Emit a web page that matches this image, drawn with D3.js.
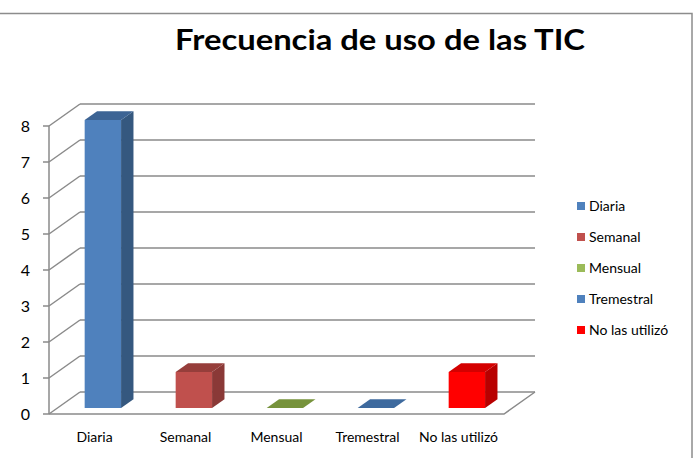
<!DOCTYPE html>
<html>
<head>
<meta charset="utf-8">
<script src="https://cdn.jsdelivr.net/npm/d3@7"></script>
<style>
  body { margin: 0; background: #fff; }
  svg { display: block; font-family: Lato, "Open Sans", sans-serif; }
</style>
</head>
<body>
<svg id="chart" width="695" height="458"></svg>
<script>
// Data
const categories = ["Diaria", "Semanal", "Mensual", "Tremestral", "No las utilizó"];
const values = [8, 1, 0, 0, 1];
const yTicks = [0, 1, 2, 3, 4, 5, 6, 7, 8];
const chartTitle = "Frecuencia de uso de las TIC";

// Face colours per bar: front, side, top
const faceColors = [
    ["#4f81bd", "#35587f", "#3d6494"],
    ["#c0504d", "#8a3937", "#963e3b"],
    ["#9bbb59", "#6e8a36", "#77933c"],
    ["#4f81bd", "#35587f", "#3e6a9e"],
    ["#ff0000", "#b80000", "#d40000"]
];

const svg = d3.select("#chart");

// Frame of the chart area
svg.append("rect")
    .attr("x", -2).attr("y", 13.5)
    .attr("width", 694).attr("height", 470)
    .attr("fill", "none")
    .attr("stroke", "#8c8c8c")
    .attr("stroke-width", 1.5);

// Title
svg.append("text")
    .attr("x", 175).attr("y", 50)
    .attr("font-size", 29)
    .attr("font-weight", "bold")
    .attr("textLength", 410)
    .attr("lengthAdjust", "spacingAndGlyphs")
    .attr("fill", "#000")
    .text(chartTitle);

// 3D geometry: front plane scales plus a depth offset
const depthX = 31, depthY = -22;
const x = d3.scaleBand().domain(categories).range([49, 504]);
const y = d3.scaleLinear().domain([0, 8]).range([414, 126]);
const pt = (px, v, d) => [px + d * depthX, y(v) + d * depthY];
const line = d3.line();

const grid = svg.append("g")
    .attr("fill", "none")
    .attr("stroke", "#8a8a8a")
    .attr("stroke-width", 1.5);

// Back wall gridlines and left wall diagonals
yTicks.forEach(function (t) {
    grid.append("path").attr("d", line([pt(49, t, 1), pt(504, t, 1)]));
    grid.append("path").attr("d", line([pt(49, t, 0), pt(49, t, 1)]));
});

// Floor front edge and right edge
grid.append("path").attr("d", line([pt(49, 0, 0), pt(504, 0, 0), pt(504, 0, 1)]));

// Vertical axis with ticks
grid.append("path").attr("d", line([pt(49, 0, 0), pt(49, 8, 0)]));
yTicks.forEach(function (t) {
    grid.append("path").attr("d", line([[43, y(t)], [49, y(t)]]));
});

svg.append("g")
    .selectAll("text")
    .data(yTicks)
    .enter()
    .append("text")
    .attr("x", 30)
    .attr("y", function (d) { return y(d); })
    .attr("dy", "0.35em")
    .attr("text-anchor", "end")
    .attr("font-size", 16)
    .attr("fill", "#000")
    .text(function (d) { return d; });

// Bars
const d0 = 0.27, d1 = 0.67;
const barW = x.bandwidth() * 0.4;
const bars = svg.append("g");

categories.forEach(function (c, i) {
    const v = values[i];
    const xl = x(c) + x.bandwidth() / 2 - barW / 2;
    const xr = xl + barW;
    const cols = faceColors[i];
    const g = bars.append("g");
    if (v > 0) {
        // front face
        g.append("path")
            .attr("d", line([pt(xl, 0, d0), pt(xr, 0, d0), pt(xr, v, d0), pt(xl, v, d0)]) + "Z")
            .attr("fill", cols[0]);
        // side face
        g.append("path")
            .attr("d", line([pt(xr, 0, d0), pt(xr, 0, d1), pt(xr, v, d1), pt(xr, v, d0)]) + "Z")
            .attr("fill", cols[1]);
    }
    // top face
    g.append("path")
        .attr("d", line([pt(xl, v, d0), pt(xr, v, d0), pt(xr, v, d1), pt(xl, v, d1)]) + "Z")
        .attr("fill", cols[2]);
});

// Category labels
svg.append("g")
    .selectAll("text")
    .data(categories)
    .enter()
    .append("text")
    .attr("x", function (d) { return x(d) + x.bandwidth() / 2; })
    .attr("y", 442)
    .attr("text-anchor", "middle")
    .attr("font-size", 14)
    .attr("fill", "#000")
    .text(function (d) { return d; });

// Legend
const legend = svg.append("g")
    .selectAll("g")
    .data(categories)
    .enter()
    .append("g")
    .attr("transform", function (d, i) { return "translate(577," + (206 + i * 31) + ")"; });

legend.append("rect")
    .attr("x", 0).attr("y", -4)
    .attr("width", 8).attr("height", 8)
    .attr("fill", function (d, i) { return faceColors[i][0]; });

legend.append("text")
    .attr("x", 12)
    .attr("dy", "0.35em")
    .attr("font-size", 14)
    .attr("fill", "#000")
    .text(function (d) { return d; });
</script>
</body>
</html>
